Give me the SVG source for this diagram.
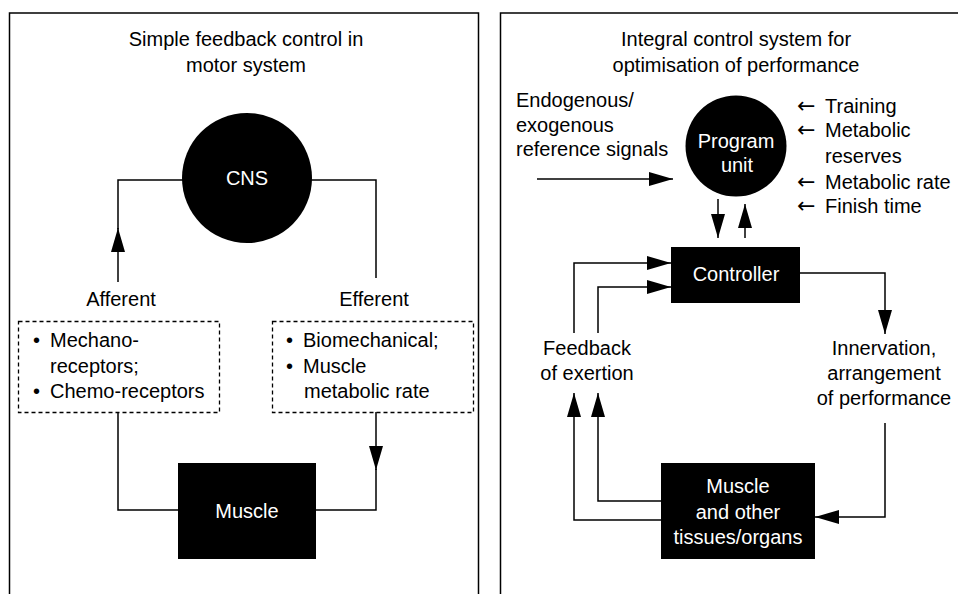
<svg xmlns="http://www.w3.org/2000/svg" width="958" height="594" viewBox="0 0 958 594">
<style>
text{font-family:"Liberation Sans","DejaVu Sans",sans-serif;font-size:20px;fill:#000}
.c{text-anchor:middle}
.w{fill:#fff}
.ar{font-family:"DejaVu Sans",sans-serif;font-size:22px}
.ln{fill:none;stroke:#000;stroke-width:1.5}
.dash{fill:none;stroke:#000;stroke-width:1.3;stroke-dasharray:4 3}
.node{fill:#000}
</style>
<defs>
<marker id="ah" viewBox="0 0 24 14" refX="24" refY="7" markerWidth="24" markerHeight="14" markerUnits="userSpaceOnUse" orient="auto">
<path d="M0 0 L24 7 L0 14 Z" fill="#000"/>
</marker>
</defs>
<rect width="958" height="594" fill="#fff"/>
<g id="panels">
<path class="ln" d="M9.5 594 V13 H478.5 V594"/>
<path class="ln" d="M500.5 594 V13 H958"/>
</g>
<g id="titles">
<text class="c" x="246" y="46">Simple feedback control in</text>
<text class="c" x="246" y="72">motor system</text>
<text class="c" x="736" y="46">Integral control system for</text>
<text class="c" x="736" y="72">optimisation of performance</text>
</g>
<g id="connectors">
<path class="ln" d="M118 282 V228" marker-end="url(#ah)"/>
<path class="ln" d="M118 229 V180 H183"/>
<path class="ln" d="M311 180 H376 V278"/>
<path class="ln" d="M118 412 V510 H178"/>
<path class="ln" d="M376 412 V470" marker-end="url(#ah)"/>
<path class="ln" d="M376 469 V510 H316"/>
<path class="ln" d="M537 179 H673" marker-end="url(#ah)"/>
<path class="ln" d="M718 199 V238" marker-end="url(#ah)"/>
<path class="ln" d="M745 238 V204" marker-end="url(#ah)"/>
<path class="ln" d="M800 273 H885 V334" marker-end="url(#ah)"/>
<path class="ln" d="M574 333 V263 H671" marker-end="url(#ah)"/>
<path class="ln" d="M598 333 V287 H671" marker-end="url(#ah)"/>
<path class="ln" d="M661 520 H574 V393" marker-end="url(#ah)"/>
<path class="ln" d="M661 501 H598 V393" marker-end="url(#ah)"/>
<path class="ln" d="M885 423 V517 H815" marker-end="url(#ah)"/>
</g>
<g id="cns">
<circle class="node" cx="247" cy="178" r="65"/>
<text class="c w" x="247" y="185">CNS</text>
</g>
<g id="afferent-label">
<text class="c" x="121" y="306">Afferent</text>
</g>
<g id="efferent-label">
<text class="c" x="374" y="306">Efferent</text>
</g>
<g id="afferent-box">
<rect class="dash" x="18.5" y="321.5" width="201" height="91"/>
<text><tspan x="33" y="347">•</tspan><tspan x="50" y="347">Mechano-</tspan></text>
<text x="50" y="373">receptors;</text>
<text><tspan x="33" y="398">•</tspan><tspan x="50" y="398">Chemo-receptors</tspan></text>
</g>
<g id="efferent-box">
<rect class="dash" x="272.5" y="321.5" width="201" height="91"/>
<text><tspan x="286" y="347">•</tspan><tspan x="303" y="347">Biomechanical;</tspan></text>
<text><tspan x="286" y="373">•</tspan><tspan x="303" y="373">Muscle</tspan></text>
<text x="304" y="398">metabolic rate</text>
</g>
<g id="muscle">
<rect class="node" x="178" y="463" width="138" height="96"/>
<text class="c w" x="247" y="518">Muscle</text>
</g>
<g id="reference-signals">
<text x="516" y="107">Endogenous/</text>
<text x="516" y="132">exogenous</text>
<text x="516" y="156">reference signals</text>
</g>
<g id="program-unit">
<circle class="node" cx="736" cy="146" r="50.5"/>
<text class="c w" x="736" y="148">Program</text>
<text class="c w" x="737" y="172">unit</text>
</g>
<g id="inputs">
<text><tspan class="ar" x="797" y="113">←</tspan><tspan x="825" y="113">Training</tspan></text>
<text><tspan class="ar" x="797" y="137">←</tspan><tspan x="825" y="137">Metabolic</tspan></text>
<text x="825" y="163">reserves</text>
<text><tspan class="ar" x="797" y="189">←</tspan><tspan x="825" y="189">Metabolic rate</tspan></text>
<text><tspan class="ar" x="797" y="213">←</tspan><tspan x="825" y="213">Finish time</tspan></text>
</g>
<g id="controller">
<rect class="node" x="671" y="247" width="129" height="56"/>
<text class="c w" x="736" y="281">Controller</text>
</g>
<g id="feedback">
<text class="c" x="587" y="355">Feedback</text>
<text class="c" x="587" y="380">of exertion</text>
</g>
<g id="innervation">
<text class="c" x="884" y="355">Innervation,</text>
<text class="c" x="884" y="380">arrangement</text>
<text class="c" x="884" y="405">of performance</text>
</g>
<g id="muscle-tissues">
<rect class="node" x="661" y="463" width="154" height="96"/>
<text class="c w" x="738" y="493">Muscle</text>
<text class="c w" x="738" y="519">and other</text>
<text class="c w" x="738" y="544">tissues/organs</text>
</g>
</svg>
